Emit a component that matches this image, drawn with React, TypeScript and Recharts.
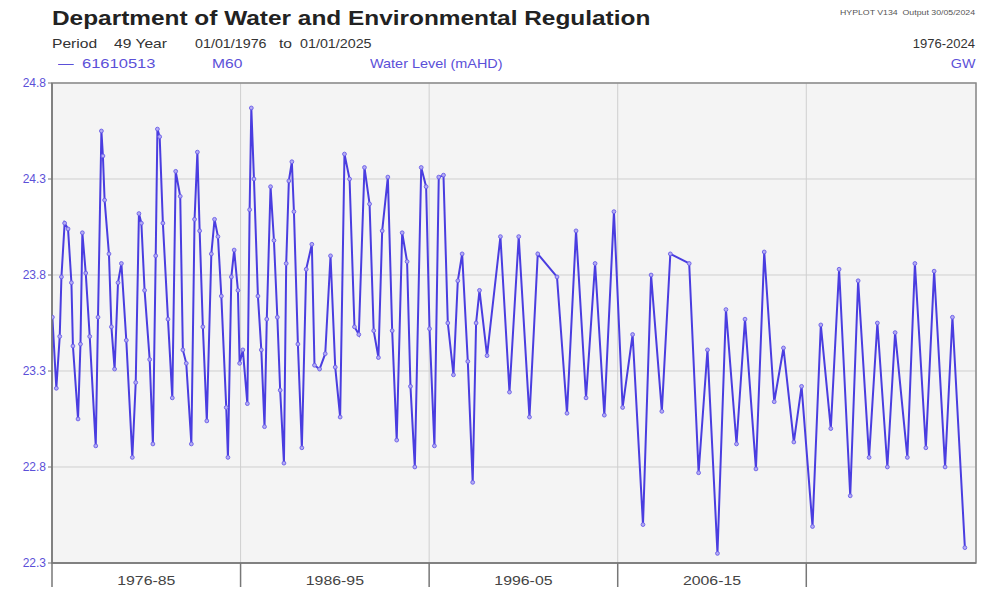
import {
  LineChart,
  Line,
  XAxis,
  YAxis,
  CartesianGrid,
  ReferenceArea,
} from 'recharts';

// decimal year of each reading
const dates = [
  1976.02, 1976.23, 1976.41, 1976.5, 1976.67, 1976.85, 1977.03, 1977.11, 1977.38, 1977.51,
  1977.61, 1977.79, 1978.0, 1978.32, 1978.44, 1978.62, 1978.7, 1978.79, 1979.02, 1979.15,
  1979.32, 1979.5, 1979.68, 1979.94, 1980.26, 1980.44, 1980.61, 1980.74, 1980.91, 1981.18,
  1981.35, 1981.5, 1981.59, 1981.71, 1981.88, 1982.15, 1982.38, 1982.56, 1982.8, 1982.94,
  1983.12, 1983.39, 1983.56, 1983.71, 1983.83, 1984.0, 1984.21, 1984.45, 1984.62, 1984.8,
  1984.98, 1985.24, 1985.33, 1985.51, 1985.66, 1985.86, 1985.95, 1986.12, 1986.36, 1986.48,
  1986.57, 1986.71, 1986.92, 1987.1, 1987.27, 1987.39, 1987.59, 1987.77, 1987.95, 1988.1,
  1988.3, 1988.42, 1988.56, 1988.72, 1988.83, 1989.04, 1989.25, 1989.48, 1989.78, 1989.92,
  1990.19, 1990.49, 1990.77, 1991.02, 1991.28, 1991.51, 1991.78, 1992.04, 1992.27, 1992.57,
  1992.84, 1993.06, 1993.31, 1993.51, 1993.81, 1994.04, 1994.28, 1994.57, 1994.83, 1995.01,
  1995.24, 1995.58, 1995.84, 1996.02, 1996.28, 1996.51, 1996.76, 1996.99, 1997.29, 1997.52,
  1997.75, 1998.05, 1998.31, 1998.49, 1998.67, 1999.07, 1999.78, 2000.26, 2000.75, 2001.32,
  2001.76, 2002.78, 2003.31, 2003.79, 2004.32, 2004.8, 2005.29, 2005.8, 2006.26, 2006.79,
  2007.34, 2007.77, 2008.34, 2008.79, 2009.79, 2010.29, 2010.76, 2011.29, 2011.74, 2012.3,
  2012.75, 2013.33, 2013.77, 2014.3, 2014.79, 2015.34, 2015.75, 2016.33, 2016.77, 2017.3,
  2017.74, 2018.33, 2018.75, 2019.33, 2019.77, 2020.3, 2020.71, 2021.36, 2021.76, 2022.34,
  2022.78, 2023.36, 2023.75, 2024.41,
];

// water level (mAHD)
const levels = [
  23.58, 23.21, 23.48, 23.79, 24.07, 24.04, 23.76, 23.43, 23.05, 23.44,
  24.02, 23.81, 23.48, 22.91, 23.58, 24.55, 24.42, 24.19, 23.91, 23.53,
  23.31, 23.76, 23.86, 23.46, 22.85, 23.24, 24.12, 24.07, 23.72, 23.36,
  22.92, 23.9, 24.56, 24.52, 24.07, 23.57, 23.16, 24.34, 24.21, 23.41,
  23.34, 22.92, 24.09, 24.44, 24.03, 23.53, 23.04, 23.91, 24.09, 24.0,
  23.69, 23.11, 22.85, 23.79, 23.93, 23.72, 23.34, 23.41, 23.13, 24.14,
  24.67, 24.3, 23.69, 23.41, 23.01, 23.57, 24.26, 23.98, 23.58, 23.2,
  22.82, 23.86, 24.29, 24.39, 24.13, 23.44, 22.9, 23.83, 23.96, 23.33,
  23.31, 23.39, 23.9, 23.32, 23.06, 24.43, 24.3, 23.53, 23.49, 24.36,
  24.17, 23.51, 23.37, 24.03, 24.31, 23.51, 22.94, 24.02, 23.87, 23.22,
  22.8, 24.36, 24.26, 23.52, 22.91, 24.31, 24.32, 23.55, 23.28, 23.77,
  23.91, 23.35, 22.72, 23.55, 23.72, 23.38, 24.0, 23.19, 24.0, 23.06,
  23.91, 23.79, 23.08, 24.03, 23.16, 23.86, 23.07, 24.13, 23.11, 23.49,
  22.5, 23.8, 23.09, 23.91, 23.86, 22.77, 23.41, 22.35, 23.62, 22.92,
  23.57, 22.79, 23.92, 23.14, 23.42, 22.93, 23.22, 22.49, 23.54, 23.0,
  23.83, 22.65, 23.77, 22.85, 23.55, 22.8, 23.5, 22.85, 23.86, 22.9,
  23.82, 22.8, 23.58, 22.38,
];

const yTicks = [22.3, 22.8, 23.3, 23.8, 24.3, 24.8];
const decadeBounds = [1976, 1986, 1996, 2006, 2016];
const decadeMids = [1981, 1991, 2001, 2011];
const decadeLabels = ['1976-85', '1986-95', '1996-05', '2006-15'];

const data = dates.map((t, i) => ({ t, level: levels[i] }));

const BLUE = '#4a3de0';
const LABEL_BLUE = '#5b50d8';
const FONT = '"Liberation Sans", Arial, sans-serif';

// header text is drawn a little wider than the font, like the original print
function Txt({
  x,
  y,
  size = 13,
  sx = 1.2,
  color = '#333',
  bold = false,
  right = false,
  children,
}: {
  x: number;
  y: number;
  size?: number;
  sx?: number;
  color?: string;
  bold?: boolean;
  right?: boolean;
  children: React.ReactNode;
}) {
  const pos = right ? { right: 989 - x } : { left: x };
  return (
    <div
      style={{
        position: 'absolute',
        ...pos,
        top: y,
        fontSize: size,
        fontWeight: bold ? 'bold' : 'normal',
        color,
        whiteSpace: 'pre',
        lineHeight: 1,
        transform: `scaleX(${sx})`,
        transformOrigin: right ? 'right top' : 'left top',
      }}
    >
      {children}
    </div>
  );
}

function DecadeTick(props: any) {
  const { x, y, payload } = props;
  const label = decadeLabels[decadeMids.indexOf(payload.value)] ?? '';
  return (
    <text
      transform={`translate(${x},${y + 13}) scale(1.22,1)`}
      textAnchor="middle"
      fontSize={13}
      fill="#444"
      fontFamily={FONT}
    >
      {label}
    </text>
  );
}

export default function App() {
  return (
    <div
      style={{
        position: 'absolute',
        left: 0,
        top: 0,
        width: 989,
        height: 591,
        background: '#fff',
        fontFamily: FONT,
      }}
    >
      <Txt x={52} y={8} size={20} sx={1.22} bold color="#222">
        Department of Water and Environmental Regulation
      </Txt>
      <Txt x={975} y={9} size={7} sx={1.25} color="#555" right>
        {'HYPLOT V134  Output 30/05/2024'}
      </Txt>
      <Txt x={52} y={37}>Period</Txt>
      <Txt x={114} y={37}>49 Year</Txt>
      <Txt x={195} y={37} sx={1.1}>01/01/1976</Txt>
      <Txt x={279} y={37}>to</Txt>
      <Txt x={300} y={37} sx={1.1}>01/01/2025</Txt>
      <Txt x={975} y={37} sx={1} right>1976-2024</Txt>
      <Txt x={58} y={57} color={LABEL_BLUE}>{'\u2014'}</Txt>
      <Txt x={82} y={57} sx={1.27} color={LABEL_BLUE}>61610513</Txt>
      <Txt x={212} y={57} color={LABEL_BLUE}>M60</Txt>
      <Txt x={370} y={57} sx={1.11} color={LABEL_BLUE}>Water Level (mAHD)</Txt>
      <Txt x={975} y={57} sx={1.1} color={LABEL_BLUE} right>GW</Txt>

      <LineChart
        width={989}
        height={591}
        data={data}
        margin={{ top: 83, right: 13, bottom: 0, left: 8 }}
        style={{ position: 'absolute', left: 0, top: 0 }}
      >
        <CartesianGrid xAxisId="bounds" stroke="#cfcfcf" fill="#f4f4f4" />
        <XAxis
          xAxisId="bounds"
          dataKey="t"
          type="number"
          domain={[1976, 2025]}
          ticks={decadeBounds}
          interval={0}
          height={1}
          tickFormatter={() => ''}
          tickSize={24}
          axisLine={{ stroke: '#777', strokeWidth: 1.5 }}
          tickLine={{ stroke: '#777', strokeWidth: 1.5 }}
          allowDataOverflow
        />
        <XAxis
          xAxisId="labels"
          dataKey="t"
          type="number"
          domain={[1976, 2025]}
          ticks={decadeMids}
          height={27}
          interval={0}
          tick={<DecadeTick />}
          tickLine={false}
          axisLine={false}
        />
        <YAxis
          domain={[22.3, 24.8]}
          ticks={yTicks}
          width={44}
          interval={0}
          tickFormatter={(v: number) => v.toFixed(1)}
          tick={{ fontSize: 12, fill: LABEL_BLUE, fontFamily: FONT }}
          tickSize={4}
          tickLine={{ stroke: '#777' }}
          axisLine={{ stroke: '#777', strokeWidth: 1.5 }}
          allowDataOverflow
        />
        <ReferenceArea
          xAxisId="bounds"
          x1={1976}
          x2={2025}
          y1={22.3}
          y2={24.8}
          fill="none"
          stroke="#8a8a8a"
          strokeWidth={1.5}
        />
        <Line
          xAxisId="bounds"
          type="linear"
          dataKey="level"
          stroke={BLUE}
          strokeWidth={2}
          dot={{ r: 1.9, stroke: '#6a5ee8', strokeWidth: 0.9, fill: '#b4acf4' }}
          activeDot={false}
          isAnimationActive={false}
        />
      </LineChart>
    </div>
  );
}
